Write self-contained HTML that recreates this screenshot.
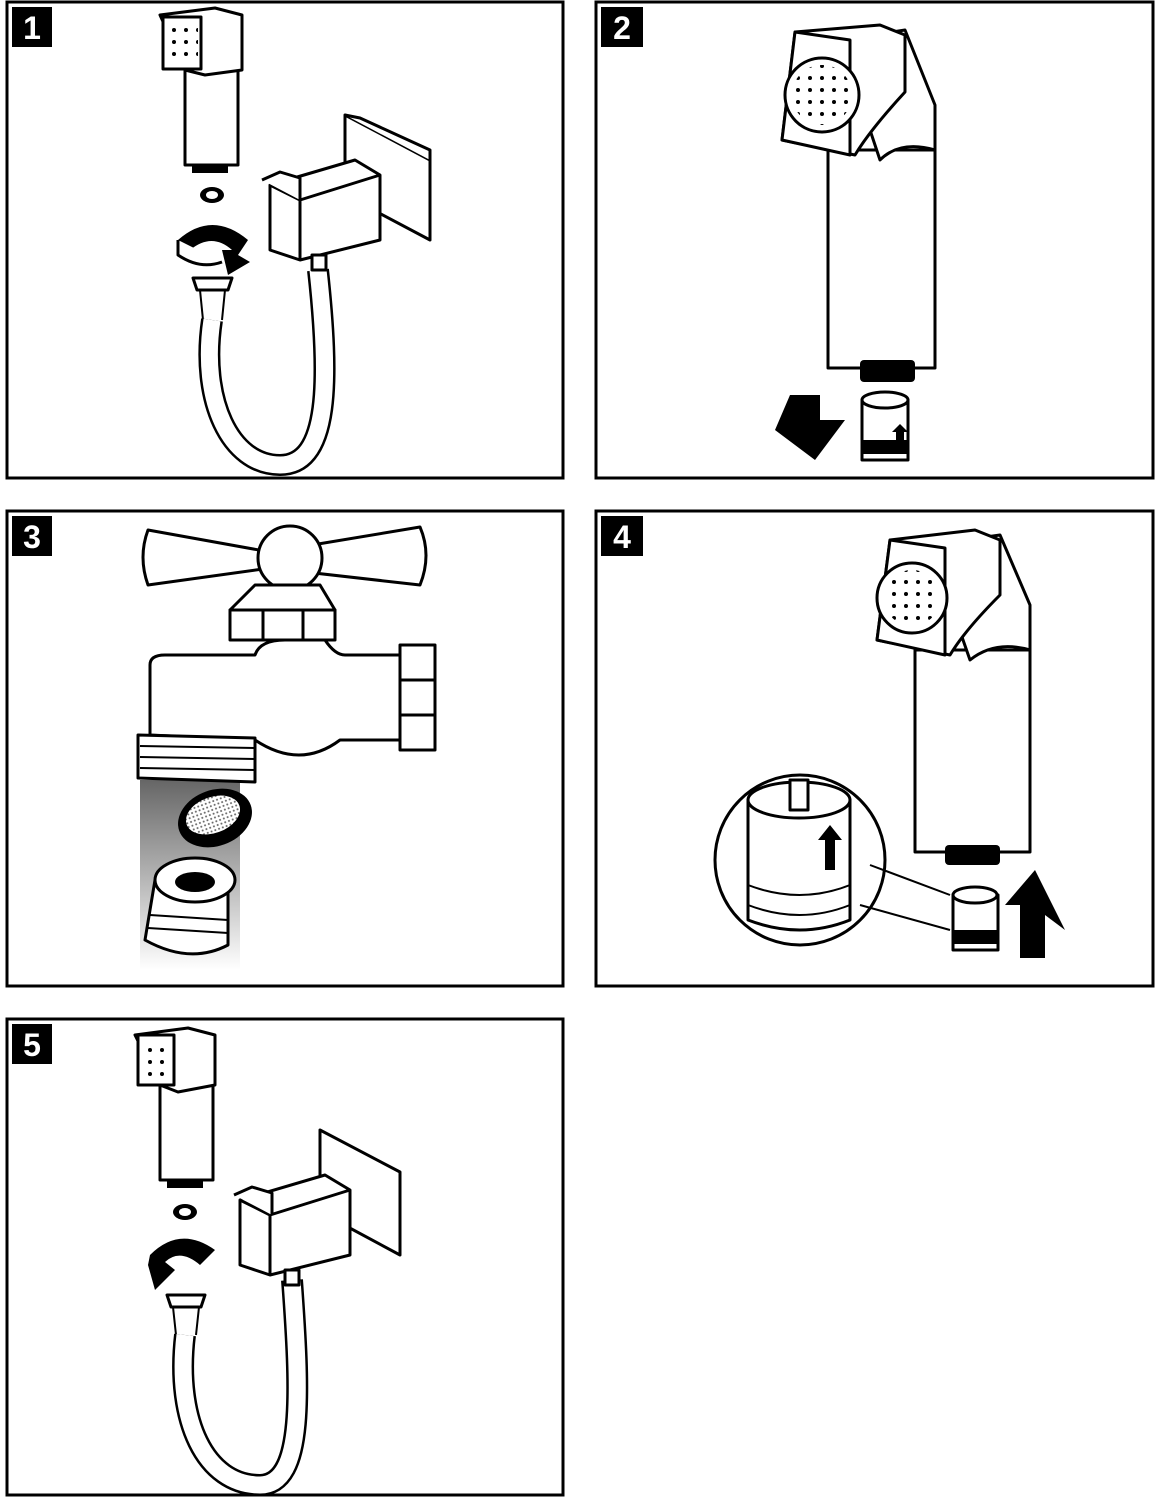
<!DOCTYPE html>
<html><head><meta charset="utf-8"><style>
html,body{margin:0;padding:0;background:#fff}
svg{display:block}
.p{fill:none;stroke:#000;stroke-width:2}
.b{fill:none;stroke:#000;stroke-width:3}
.s{fill:#fff;stroke:#000;stroke-width:3;stroke-linejoin:round}
.n{font-family:"Liberation Sans",sans-serif;font-weight:bold;font-size:32px;fill:#fff}
</style></head><body>
<svg width="1157" height="1500" viewBox="0 0 1157 1500" xmlns="http://www.w3.org/2000/svg">
<defs>
<linearGradient id="beam" x1="0" y1="0" x2="0" y2="1"><stop offset="0" stop-color="#555"/><stop offset="1" stop-color="#fff"/></linearGradient>
<pattern id="dots" width="12" height="12" patternUnits="userSpaceOnUse"><circle cx="6" cy="6" r="2" fill="#000"/></pattern>
<pattern id="mesh" width="4" height="4" patternUnits="userSpaceOnUse"><rect width="4" height="4" fill="#fff"/><circle cx="2" cy="2" r="1" fill="#666"/></pattern>
</defs>
<rect x="7" y="2" width="556" height="476" class="b"/>
<rect x="596" y="2" width="557" height="476" class="b"/>
<rect x="7" y="511" width="556" height="475" class="b"/>
<rect x="596" y="511" width="557" height="475" class="b"/>
<rect x="7" y="1019" width="556" height="476" class="b"/>
<g>
<rect x="12" y="7" width="40" height="40"/><text x="32" y="39" text-anchor="middle" class="n">1</text>
<rect x="601" y="7" width="42" height="40"/><text x="622" y="39" text-anchor="middle" class="n">2</text>
<rect x="12" y="516" width="40" height="40"/><text x="32" y="548" text-anchor="middle" class="n">3</text>
<rect x="601" y="516" width="42" height="40"/><text x="622" y="548" text-anchor="middle" class="n">4</text>
<rect x="12" y="1024" width="40" height="40"/><text x="32" y="1056" text-anchor="middle" class="n">5</text>
</g>

<g>
<path class="s" d="M185 70 L238 70 L238 165 L185 165 Z"/>
<path class="s" d="M160 15 L215 8 L242 15 L242 70 L205 75 L185 70 Z"/>
<rect x="163" y="17" width="38" height="52" class="s"/>
<rect x="166" y="22" width="32" height="42" fill="url(#dots)"/>
<rect x="192" y="165" width="36" height="8" fill="#000"/>
<ellipse cx="212" cy="195" rx="12" ry="8" fill="#000"/><ellipse cx="212" cy="195" rx="6" ry="4" fill="#fff"/>
<path d="M178 240 Q212 210 248 240 L238 255 L250 262 L228 275 L222 250 L232 250 Q212 232 190 250 Z" fill="#000"/>
<path class="s" d="M178 240 L178 255 Q200 270 222 262" />
<path class="s" d="M193 278 L232 278 L228 290 L197 290 Z"/>
<path class="p" d="M200 290 L203 320 M225 290 L222 320"/>
<path d="M212 320 C200 400 230 465 280 465 C330 465 330 380 318 270" fill="none" stroke="#000" stroke-width="22"/>
<path d="M212 320 C200 400 230 465 280 465 C330 465 330 380 318 270" fill="none" stroke="#fff" stroke-width="17"/>
<path class="s" d="M345 115 L430 160 L430 240 L345 195 Z"/>
<path class="s" d="M345 115 L360 118 L430 150 L430 160"/>
<path class="s" d="M270 185 L355 160 L380 175 L380 240 L300 260 L270 250 Z"/>
<path class="s" d="M270 185 L300 200 L380 175 M300 200 L300 260"/>
<path class="s" d="M262 180 L280 172 L300 178 L300 200"/>
<rect x="312" y="255" width="14" height="15" class="s"/>
</g>

<g>
<path class="s" d="M828 150 L935 150 L935 368 L828 368 Z"/>
<path class="s" d="M880 160 Q900 140 935 150 L935 105 L905 30 L840 40 Z"/>
<path class="s" d="M795 32 L880 25 L905 35 L905 92 Q870 130 855 155 L782 140 Z"/>
<path class="s" d="M782 140 L795 32 L850 40 L850 155 Z"/>
<circle cx="822" cy="95" r="37" class="s"/>
<circle cx="822" cy="95" r="30" fill="url(#dots)"/>
<rect x="860" y="360" width="55" height="22" rx="4" fill="#000"/>
<path class="s" d="M862 400 L908 400 L908 460 L862 460 Z"/>
<ellipse cx="885" cy="400" rx="23" ry="8" class="s"/>
<rect x="862" y="440" width="46" height="14" fill="#000"/>
<path d="M896 448 L896 432 L892 432 L900 424 L908 432 L904 432 L904 448 Z" fill="#000"/>
<path d="M790 395 L820 395 L820 420 L845 420 L815 460 L775 430 Z" fill="#000"/>
</g>

<g>
<path d="M140 780 L240 780 L240 970 L140 970 Z" fill="url(#beam)" opacity=".9"/>
<path class="s" d="M148 530 L270 552 L420 527 Q432 555 420 585 L270 568 L148 585 Q138 557 148 530 Z"/>
<circle cx="290" cy="558" r="32" class="s"/>
<path class="s" d="M255 585 L320 585 L335 610 L230 610 Z"/>
<path class="s" d="M230 610 L335 610 L335 640 L230 640 Z M263 610 L263 640 M303 610 L303 640"/>
<path class="s" d="M150 665 Q150 655 165 655 L255 655 Q260 640 285 640 L325 640 Q335 655 345 655 L400 655 L400 740 L340 740 Q300 770 255 740 L150 735 Z"/>
<path class="s" d="M400 645 L435 645 L435 750 L400 750 Z M400 680 L435 680 M400 715 L435 715"/>
<path class="s" d="M138 735 L255 738 L255 782 L138 778 Z"/>
<path class="p" stroke-width="3" d="M140 746 L255 748 M140 757 L255 759 M140 768 L255 770"/>
<ellipse cx="215" cy="818" rx="38" ry="28" fill="#000" transform="rotate(-20 215 818)"/>
<ellipse cx="213" cy="815" rx="28" ry="18" fill="url(#mesh)" transform="rotate(-20 213 815)"/>
<path class="s" d="M155 880 L228 880 L228 945 Q190 965 145 940 Z"/>
<ellipse cx="195" cy="880" rx="40" ry="22" class="s"/>
<ellipse cx="195" cy="882" rx="20" ry="10" fill="#000"/>
<path class="p" stroke-width="4" d="M150 915 L228 920 M148 928 L228 933"/>
</g>

<g>
<path class="s" d="M915 650 L1030 650 L1030 852 L915 852 Z"/>
<path class="s" d="M970 660 Q995 640 1030 650 L1030 605 L1000 535 L930 545 Z"/>
<path class="s" d="M890 540 L975 530 L1000 540 L1000 595 Q965 630 950 655 L877 640 Z"/>
<path class="s" d="M877 640 L890 540 L945 548 L945 655 Z"/>
<circle cx="912" cy="598" r="35" class="s"/>
<circle cx="912" cy="598" r="28" fill="url(#dots)"/>
<rect x="945" y="845" width="55" height="20" rx="4" fill="#000"/>
<circle cx="800" cy="860" r="85" class="s"/>
<path class="p" d="M870 865 L950 895 M860 905 L950 930"/>
<path class="s" d="M748 800 L850 800 L850 920 Q800 940 748 920 Z"/>
<ellipse cx="799" cy="800" rx="51" ry="18" class="s"/>
<rect x="790" y="780" width="18" height="30" class="s"/>
<path class="p" stroke-width="5" d="M748 885 Q800 905 850 885 M748 905 Q800 925 850 905"/>
<path d="M825 870 L825 840 L818 840 L830 825 L842 840 L835 840 L835 870 Z" fill="#000"/>
<path class="s" d="M953 895 L998 895 L998 950 L953 950 Z"/>
<ellipse cx="975" cy="895" rx="22" ry="8" class="s"/>
<rect x="953" y="930" width="45" height="14" fill="#000"/>
<path d="M1020 958 L1020 905 L1005 905 L1035 870 L1065 930 L1045 915 L1045 958 Z" fill="#000"/>
</g>

<g>
<path class="s" d="M160 1085 L213 1085 L213 1180 L160 1180 Z"/>
<path class="s" d="M135 1035 L188 1028 L215 1035 L215 1085 L178 1092 L160 1085 Z"/>
<rect x="138" y="1035" width="36" height="50" class="s"/>
<rect x="141" y="1040" width="30" height="40" fill="url(#dots)"/>
<rect x="167" y="1180" width="36" height="8" fill="#000"/>
<ellipse cx="185" cy="1212" rx="12" ry="8" fill="#000"/><ellipse cx="185" cy="1212" rx="6" ry="4" fill="#fff"/>
<path d="M150 1255 Q180 1225 215 1250 L200 1265 Q180 1248 165 1262 L175 1270 L155 1290 L148 1265 Z" fill="#000"/>
<path class="s" d="M167 1295 L205 1295 L201 1307 L171 1307 Z"/>
<path class="p" d="M173 1307 L176 1335 M199 1307 L196 1335"/>
<path d="M185 1335 C175 1420 205 1485 260 1485 C305 1485 300 1390 292 1280" fill="none" stroke="#000" stroke-width="22"/>
<path d="M185 1335 C175 1420 205 1485 260 1485 C305 1485 300 1390 292 1280" fill="none" stroke="#fff" stroke-width="17"/>
<path class="s" d="M320 1130 L400 1172 L400 1255 L320 1212 Z"/>
<path class="s" d="M240 1200 L325 1175 L350 1190 L350 1255 L270 1275 L240 1265 Z"/>
<path class="s" d="M240 1200 L270 1215 L350 1190 M270 1215 L270 1275"/>
<path class="s" d="M234 1195 L252 1187 L272 1193 L272 1215"/>
<rect x="285" y="1270" width="14" height="15" class="s"/>
</g>
</svg>
</body></html>
